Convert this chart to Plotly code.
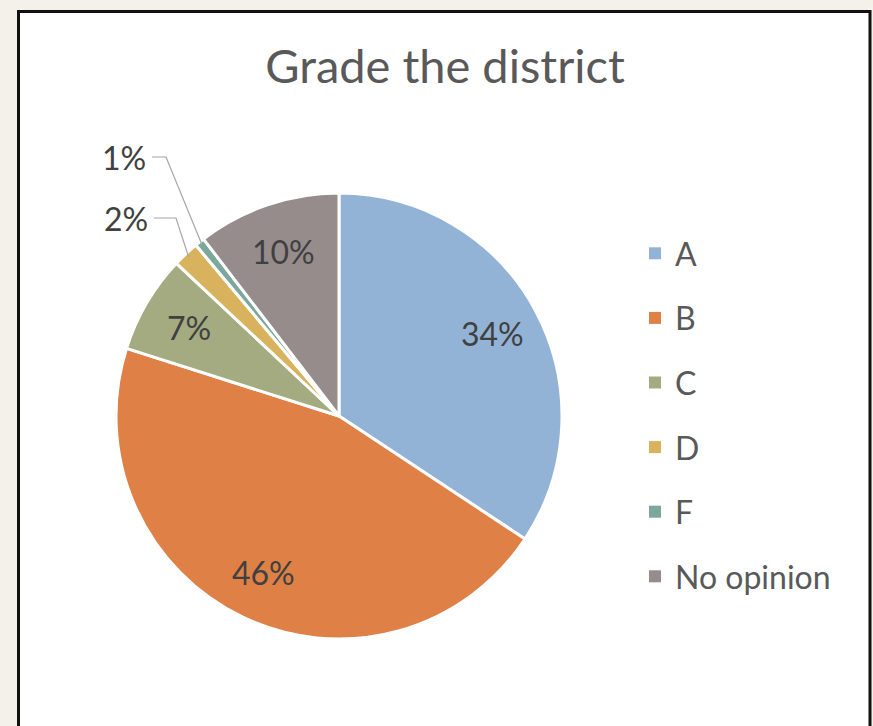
import math
import plotly.graph_objects as go

# data
grades = ["A", "B", "C", "D", "F", "No opinion"]
shares = [34.3, 45.6, 7.1, 1.9, 0.7, 10.4]
colors = ["#93B3D6", "#DF8046", "#A5AB81", "#D8B25C", "#7BA79D", "#968C8C"]

W, H = 873, 726
cx, cy, r = 339, 416, 223  # pie centre / radius in pixels
label_font = dict(family="Lato", size=32, color="#404040")

fig = go.Figure()

fig.add_trace(go.Pie(
    labels=grades,
    values=shares,
    sort=False,
    direction="clockwise",
    rotation=0,
    marker=dict(colors=colors, line=dict(color="white", width=3)),
    textinfo="none",
    domain=dict(x=[(cx - r) / W, (cx + r) / W], y=[1 - (cy + r) / H, 1 - (cy - r) / H]),
    showlegend=False,
    hoverinfo="label+percent",
))

# legend entries (one group each so they can be spaced out)
for g, c in zip(grades, colors):
    fig.add_trace(go.Scatter(
        x=[None], y=[None], mode="markers", name=g, legendgroup=g,
        marker=dict(symbol="square", size=12, color=c),
        hoverinfo="skip",
    ))

# slice mid angles from the data
total = sum(shares)
cum = 0
mids = []
for v in shares:
    mids.append((cum + v / 2) / total * 2 * math.pi)
    cum += v

shapes = []
annotations = []

# percentage labels inside the bigger slices
for i in [0, 1, 2, 5]:
    px = cx + 0.78 * r * math.sin(mids[i])
    py = cy - 0.78 * r * math.cos(mids[i])
    annotations.append(dict(
        x=px / W, y=1 - py / H, xref="paper", yref="paper",
        xanchor="center", yanchor="middle", showarrow=False,
        text=f"{shares[i] / total:.0%}", font=label_font,
    ))

# leader-line labels for the two tiny slices
label_spots = {3: (150, 218, 176), 4: (148, 157, 166)}  # text right edge x, y, elbow x
for i, (tx, ty, ex) in label_spots.items():
    px = cx + (r - 4) * math.sin(mids[i])
    py = cy - (r - 4) * math.cos(mids[i])
    shapes.append(dict(
        type="path", xref="paper", yref="paper",
        path=f"M {(tx + 4) / W},{1 - ty / H} L {ex / W},{1 - ty / H} L {px / W},{1 - py / H}",
        line=dict(color="#A6A6A6", width=1.2),
    ))
    annotations.append(dict(
        x=tx / W, y=1 - ty / H, xref="paper", yref="paper",
        xanchor="right", yanchor="middle", showarrow=False,
        text=f"{shares[i] / total:.0%}", font=label_font,
    ))

# white chart area with dark frame on beige page
shapes.insert(0, dict(
    type="rect", xref="paper", yref="paper", layer="below",
    x0=18.5 / W, x1=870 / W, y0=-0.05, y1=1 - 11.5 / H,
    fillcolor="white", line=dict(color="#111111", width=3),
))

fig.update_layout(
    width=W, height=H,
    margin=dict(l=0, r=0, t=0, b=0),
    paper_bgcolor="#F4F1EA",
    plot_bgcolor="rgba(0,0,0,0)",
    title=dict(
        text="Grade the district", x=445 / W, xanchor="center",
        y=1 - 67 / H, yanchor="middle",
        font=dict(family="Lato", size=47, color="#595959"),
    ),
    xaxis=dict(visible=False),
    yaxis=dict(visible=False),
    legend=dict(
        x=635 / W, y=1 - 226 / H, xanchor="left", yanchor="top",
        font=dict(family="Lato", size=32, color="#595959"),
        tracegroupgap=20, bgcolor="rgba(0,0,0,0)",
    ),
    shapes=shapes,
    annotations=annotations,
)

fig.write_html("out.html", config={"displayModeBar": False},
               post_script="document.body.style.margin='0px';")
